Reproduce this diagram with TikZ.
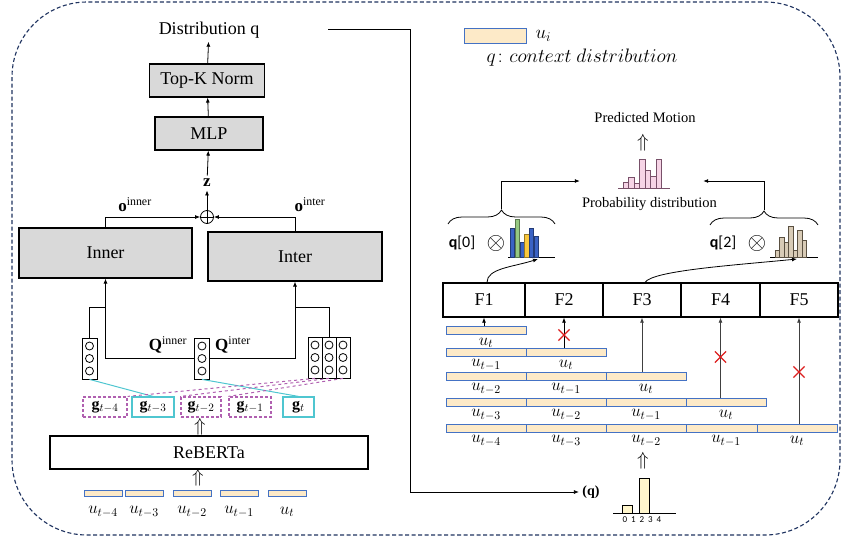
\documentclass[tikz,border=0pt]{standalone}
\usepackage{fix-cm}
\usepackage{amsmath}
\usepackage{amssymb}
\usepackage{fontspec}
\setmainfont{Liberation Serif}
\setsansfont{Carlito}
\usepackage{tikz}
\usetikzlibrary{arrows.meta,calc,positioning,shapes.misc,decorations.pathreplacing}
\newcommand{\setfs}[1]{\fontsize{#1}{#1}\selectfont}
\definecolor{boxgray}{RGB}{217,217,217}
\definecolor{ufill}{RGB}{253,234,200}
\definecolor{ublue}{RGB}{68,114,196}
\definecolor{gcyan}{RGB}{79,198,208}
\definecolor{gmag}{RGB}{176,96,176}
\definecolor{navy}{RGB}{30,50,95}
\definecolor{pinkfill}{RGB}{246,212,230}
\definecolor{pinkdraw}{RGB}{120,80,105}
\definecolor{tanfill}{RGB}{216,203,182}
\definecolor{tandraw}{RGB}{90,80,65}
\definecolor{hblue}{RGB}{58,98,196}
\definecolor{hgreen}{RGB}{150,200,130}
\definecolor{hyellow}{RGB}{250,200,60}
\definecolor{qfill}{RGB}{255,246,204}
\definecolor{xred}{RGB}{220,30,30}
\tikzset{
    gray-box/.style = {draw, fill=boxgray, line width=1.1pt, rectangle, font=\setfs{18}},
    f-box/.style = {draw, line width=1.3pt, rectangle, minimum height=34pt, font=\setfs{18}},
    vec-box/.style = {draw, fill=white, line width=0.8pt, rectangle, minimum height=41pt, inner sep=0pt},
    u-bar/.style = {draw=ublue, fill=ufill, line width=0.8pt, rectangle, inner sep=0pt, minimum height=8pt},
    u-lbl/.style = {font=\setfs{17}, inner sep=0pt},
    g-dash/.style = {draw=gmag, dashed, dash pattern=on 3pt off 2pt, line width=1.2pt, minimum height=20pt, inner sep=1pt, font=\setfs{16}},
    g-solid/.style = {draw=gcyan, line width=1.2pt, minimum height=20pt, inner sep=1pt, font=\setfs{16}},
    x-mark/.style = {cross out, draw=xred, line width=1.2pt, minimum size=10pt, inner sep=0pt},
    up-arr/.style = {font=\setfs{19}, inner sep=0pt},
    arr/.style = {-{Latex[length=5pt,width=4pt]}, line width=0.8pt},
    brace-up/.style = {decorate, decoration={brace, amplitude=14pt}, line width=0.8pt},
}

\begin{document}
\begin{tikzpicture}[x=1pt, y=-1pt]
\useasboundingbox (0,0) rectangle (843,541);
\draw[navy, line width=1.1pt, dash pattern=on 4pt off 2.5pt, rounded corners=75pt] (12,2) rectangle (840,535);

\node[font=\setfs{18}] (dist) at (209,30) {Distribution q};
\node[gray-box, minimum width=115pt, minimum height=33pt] (topk) at (207,80.5) {Top-K Norm};
\node[gray-box, minimum width=108pt, minimum height=33pt] (mlp) at (209,133.5) {MLP};
\node[font=\setfs{17}] (z) at (207,183) {$\mathbf{z}$};
\node[draw, circle, line width=0.8pt, minimum size=13pt, inner sep=0pt] (plus) at (207,217) {};
\draw[line width=0.8pt] (plus.north) -- (plus.south) (plus.west) -- (plus.east);
\draw[arr] (topk) -- (dist);
\draw[arr] (mlp) -- (topk);
\draw[arr] (z) -- (mlp);
\draw[arr] (plus) -- (z);

\node[gray-box, minimum width=173pt, minimum height=50pt] (inner) at (105.5,253) {Inner};
\node[gray-box, minimum width=174pt, minimum height=49pt] (inter) at (295,256.5) {Inter};
\draw[arr] (inner.north) |- (plus.west);
\draw[arr] (inter.north) |- (plus.east);
\node[font=\setfs{17}] (oin) at (135,205) {$\mathbf{o}^{\text{inner}}$};
\node[font=\setfs{17}] (oit) at (310,205) {$\mathbf{o}^{\text{inter}}$};

\node[vec-box, minimum width=15pt] (lvec) at (89.5,358.5) {};
\node[vec-box, minimum width=15pt] (mvec) at (202,358.5) {};
\node[vec-box, minimum width=14pt] (rvec1) at (315,357.5) {};
\node[vec-box, minimum width=14pt] (rvec2) at (329,357.5) {};
\node[vec-box, minimum width=14pt] (rvec3) at (343,357.5) {};
\foreach \v in {lvec,mvec,rvec1,rvec2,rvec3}
  \foreach \dy in {-12.5,0,12.5}
    \draw[line width=0.8pt] ([yshift=\dy pt]\v.center) circle (4pt);
\draw[arr] (mvec.west) -| (inner.south);
\draw[arr] (mvec.east) -| (inter.south);
\draw[line width=0.8pt] (lvec.north) |- ($(inner.south)+(0,29)$);
\draw[line width=0.8pt] (rvec2.north) |- ($(inter.south)+(0,26)$);
\node[font=\setfs{17}] (qin) at (168,345) {$\mathbf{Q}^{\text{inner}}$};
\node[font=\setfs{17}] (qit) at (233,345) {$\mathbf{Q}^{\text{inter}}$};

\node[g-dash, minimum width=44pt] (g4) at (105,407) {$\mathbf{g}_{t-4}$};
\node[g-solid, minimum width=42pt] (g3) at (153,407) {$\mathbf{g}_{t-3}$};
\node[g-dash, minimum width=40pt] (g2) at (201,407) {$\mathbf{g}_{t-2}$};
\node[g-dash, minimum width=42pt] (g1) at (250,407) {$\mathbf{g}_{t-1}$};
\node[g-solid, minimum width=31pt] (g0) at (298.5,407) {$\mathbf{g}_{t}$};
\draw[gcyan, line width=1pt] (lvec.south) -- (g3.north);
\draw[gcyan, line width=1pt] (mvec.south) -- (g0.north);
\draw[gmag, line width=1pt, dashed] (rvec1.south) -- (g4.north east);
\draw[gmag, line width=1pt, dashed] (rvec2.south) -- (g2.north west);
\draw[gmag, line width=1pt, dashed] (rvec3.south) -- (g1.north west);

\node[draw, line width=1.1pt, minimum width=318pt, minimum height=33pt, font=\setfs{18}] (rebert) at (209,452.5) {ReBERTa};
\node[up-arr] (up1) at (200,427) {$\Uparrow$};
\node[up-arr] (up2) at (198,478) {$\Uparrow$};
\foreach \i/\x/\s in {0/103/{t-4},1/144/{t-3},2/192/{t-2},3/239/{t-1},4/287/{t}} {
  \node[u-bar, minimum width=38pt, minimum height=6pt] (lu\i) at (\x,493) {};
  \node[u-lbl] (lul\i) at (\x,512) {$u_{\s}$};
}

\node[u-bar, minimum width=62pt, minimum height=15pt] (legbox) at (495,35.5) {};
\node[font=\setfs{19}, inner sep=0pt, right=9pt of legbox] (legu) {$u_i$};
\node[font=\setfs{19.5}] (legq) at (582,58) {$q\colon context\ distribution$};

\coordinate (qout) at (328,29);
\coordinate (qturn) at (410,29);
\node[font=\setfs{14}\bfseries] (qtag) at (591,492) {(q)};
\draw[arr] (qout) -- (qturn) |- (qtag.west);
\draw[line width=0.8pt] (613,513) -- (676,513);
\draw[line width=0.8pt, fill=qfill] (622,513) rectangle (632,505);
\draw[line width=0.8pt, fill=qfill] (639,513) rectangle (649,478);
\foreach \k in {0,...,4}
  \node[font=\sffamily\setfs{9}, inner sep=0pt] (qd\k) at (625+8.5*\k,520) {\k};
\node[up-arr] (up4) at (643,461) {$\Uparrow$};

\foreach \n/\x/\w in {1/484/82,2/564/78,3/642/78,4/720.5/79,5/799/78}
  \node[f-box, minimum width=\w pt] (f\n) at (\x,300) {F\n};

\foreach \r/\y in {0/330,1/352,2/376,3/402,4/428} {
  \pgfmathtruncatemacro{\last}{\r+1}
  \foreach \c in {1,...,\last} {
    \pgfmathsetmacro{\cx}{\c==5 ? 797 : 406+80*\c}
    \pgfmathtruncatemacro{\k}{\r+1-\c}
    \node[u-lbl] (ul\r\c) at (\cx,\y+13) {\ifnum\k=0 $u_t$\else $u_{t-\k}$\fi};
    \node[u-bar, minimum width=80pt] (u\r\c) at (\cx,\y) {};
  }
}
\draw[arr] (f1.south |- u01.north) -- (f1.south);
\draw[arr] (f2.south |- u12.north) -- (f2.south);
\draw[arr, black!75] (f3.south |- u23.north) -- (f3.south);
\draw[arr, black!75] (f4.south |- u34.north) -- (f4.south);
\draw[arr, black!75] (f5.south |- u45.north) -- (f5.south);
\node[x-mark] (x2) at (564,335) {};
\node[x-mark] (x4) at (720.5,357) {};
\node[x-mark] (x5) at (799,372) {};

\node[font=\setfs{14.5}] (pm) at (645,118) {Predicted Motion};
\node[up-arr] (up3) at (643,143) {$\Uparrow$};
\draw[pinkdraw, line width=0.8pt] (618,188) -- (670,188);
\foreach \x/\h in {623/6,628.5/11,634/5,639.5/29,645/18,650.5/12,656/29}
  \draw[pinkdraw, line width=0.6pt, fill=pinkfill] (\x,188) rectangle ++(5.5,-\h);
\node[font=\setfs{14.5}] (pd) at (649.5,204) {Probability distribution};
\node[minimum width=123pt, minimum height=30pt] (probhist) at (641.5,181) {};

\node[font=\sffamily\setfs{16}] (q0) at (462,243) {\textbf{q}[0]};
\node[font=\setfs{24}, inner sep=0pt] (ot0) at (496,243) {$\otimes$};
\draw[line width=0.8pt] (508,257) -- (555,257);
\foreach \x/\h/\c in {510/29/hblue,515/38/hgreen,520/15/hblue,524.5/23/hyellow,529/29/hblue,534/21/hblue}
  \draw[draw=\c!60!black, line width=0.4pt, fill=\c] (\x,257) rectangle ++(4.6,-\h);
\coordinate (h0) at (538,259);
\draw[arr] ([xshift=3pt]f1.north) .. controls +(0,-14) and +(-25,8) .. (h0);

\node[font=\sffamily\setfs{16}] (q2) at (723,243) {\textbf{q}[2]};
\node[font=\setfs{24}, inner sep=0pt] (ot2) at (757,243) {$\otimes$};
\draw[line width=0.8pt] (770,257) -- (818,257);
\foreach \x/\h in {775/7,779.5/20,784/15,788.5/31,793/7,797.5/27,802/17}
  \draw[tandraw, line width=0.5pt, fill=tanfill] (\x,257) rectangle ++(4.5,-\h);
\coordinate (h2) at (797,259);
\draw[arr] ([xshift=3pt]f3.north) .. controls +(8,-12) and +(-60,6) .. (h2);

\draw[brace-up] (448,224) -- (555,224);
\draw[brace-up] (710,225) -- (818,225);
\coordinate (lbt) at (501.5,209);
\coordinate (rbt) at (764,210);
\draw[arr] (lbt) |- (probhist.west);
\draw[arr] (rbt) |- (probhist.east);
\end{tikzpicture}
\end{document}
